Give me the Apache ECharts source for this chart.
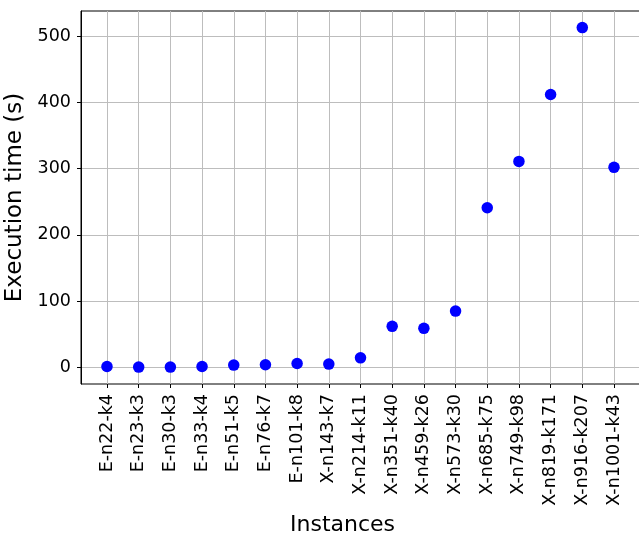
<!DOCTYPE html>
<html><head><meta charset="utf-8">
<script src="https://cdn.jsdelivr.net/npm/echarts@6/dist/echarts.min.js"></script>
<style>html,body{margin:0;padding:0;background:#fff}#c{width:639px;height:535px}</style>
</head><body><div id="c"></div>
<script>
const categories = ["E-n22-k4","E-n23-k3","E-n30-k3","E-n33-k4","E-n51-k5","E-n76-k7","E-n101-k8","X-n143-k7","X-n214-k11","X-n351-k40","X-n459-k26","X-n573-k30","X-n685-k75","X-n749-k98","X-n819-k171","X-n916-k207","X-n1001-k43"];
const times = [1.5,0.5,0.5,1.5,3.5,4,6,5,14.5,62,59,85,241,311,412,513,302];
const yTicks = [0,100,200,300,400,500];
const FONT = 'DejaVu Sans';
const chart = echarts.init(document.getElementById('c'), null, {renderer:'canvas'});
chart.setOption({
  animation:false,
  backgroundColor:'#fff',
  grid:[
    {left:81, width:559, top:11, bottom:151, show:true, borderColor:'#000', borderWidth:1, backgroundColor:'transparent', outerBoundsMode:'none', containLabel:false},
    {left:107, width:507, top:11, bottom:151, outerBoundsMode:'none', containLabel:false}
  ],
  xAxis:[
    {gridIndex:0, type:'value', show:false, min:0, max:1},
    {gridIndex:1, type:'category', data:categories, boundaryGap:false,
     axisLine:{show:false, onZero:false},
     axisTick:{show:true, inside:false, length:4, lineStyle:{color:'#000'}},
     axisLabel:{rotate:90, interval:0, fontSize:17.5, margin:10, color:'#000', fontFamily:FONT},
     splitLine:{show:true, lineStyle:{color:'#bdbdbd', width:1}},
     name:'Instances', nameLocation:'middle', nameGap:130,
     nameTextStyle:{fontSize:22, color:'#000', fontFamily:FONT, padding:[0,36,0,0]}}
  ],
  yAxis:[
    {gridIndex:0, type:'value', min:-25, max:538, interval:100,
     name:'Execution time (s)', nameLocation:'middle', nameGap:49,
     nameTextStyle:{fontSize:23, color:'#000', fontFamily:FONT},
     axisLine:{show:true, onZero:false, lineStyle:{color:'#000'}},
     axisTick:{show:true, inside:false, length:4, customValues:yTicks, lineStyle:{color:'#000'}},
     axisLabel:{customValues:yTicks, fontSize:17.5, margin:10, color:'#000', fontFamily:FONT},
     splitLine:{show:true, lineStyle:{color:'#bdbdbd', width:1}}},
    {gridIndex:1, type:'value', min:-25, max:538, show:false}
  ],
  series:[{
    type:'scatter', xAxisIndex:1, yAxisIndex:1, data:times,
    symbolSize:11.5, itemStyle:{color:'#0000ff', opacity:1}
  }]
});
</script></body></html>
